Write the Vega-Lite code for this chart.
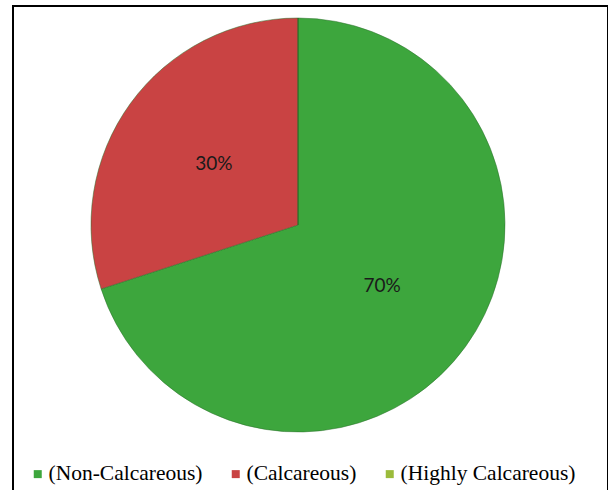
{
  "$schema": "https://vega.github.io/schema/vega-lite/v6.json",
  "width": 595,
  "height": 500,
  "autosize": {"type": "none"},
  "padding": {"left": 13, "top": 6, "right": 0, "bottom": 0},
  "background": "white",
  "view": {"stroke": "#000000", "strokeWidth": 2},
  "config": {"view": {"stroke": "#000000", "strokeWidth": 2}},
  "data": {
    "values": [
      {"category": "(Non-Calcareous)", "value": 0.7, "order": 1},
      {"category": "(Calcareous)", "value": 0.3, "order": 2},
      {"category": "(Highly Calcareous)", "value": 0.0, "order": 3}
    ]
  },
  "layer": [
    {
      "mark": {"type": "arc", "outerRadius": 207, "x": 285, "y": 219, "stroke": "#2a6e2a", "strokeWidth": 0.5},
      "encoding": {
        "theta": {"field": "value", "type": "quantitative", "stack": true},
        "order": {"field": "order", "type": "quantitative"},
        "color": {
          "field": "category",
          "type": "nominal",
          "scale": {
            "domain": ["(Non-Calcareous)", "(Calcareous)", "(Highly Calcareous)"],
            "range": ["#3da63d", "#c94343", "#9bbb3b"]
          },
          "legend": {
            "title": null,
            "orient": "none",
            "direction": "horizontal",
            "legendX": 14,
            "legendY": 457,
            "padding": 0,
            "symbolType": "square",
            "symbolSize": 64,
            "symbolStrokeWidth": 0,
            "labelFont": "Liberation Serif",
            "labelFontSize": 21.5,
            "labelColor": "#000000",
            "labelOffset": 0,
            "columnPadding": 22,
            "labelLimit": 400
          }
        }
      }
    },
    {
      "transform": [{"filter": "datum.value > 0"}],
      "mark": {"type": "text", "radius": 104, "x": 285, "y": 219, "font": "Lato", "fontSize": 19, "color": "#1a1a1a"},
      "encoding": {
        "theta": {"field": "value", "type": "quantitative", "stack": true},
        "order": {"field": "order", "type": "quantitative"},
        "text": {"field": "value", "type": "quantitative", "format": ".0%"}
      }
    },
    {
      "mark": {"type": "point", "opacity": 0},
      "encoding": {
        "x": {"field": "value", "type": "quantitative", "axis": null},
        "y": {"field": "order", "type": "quantitative", "axis": null}
      }
    }
  ]
}
